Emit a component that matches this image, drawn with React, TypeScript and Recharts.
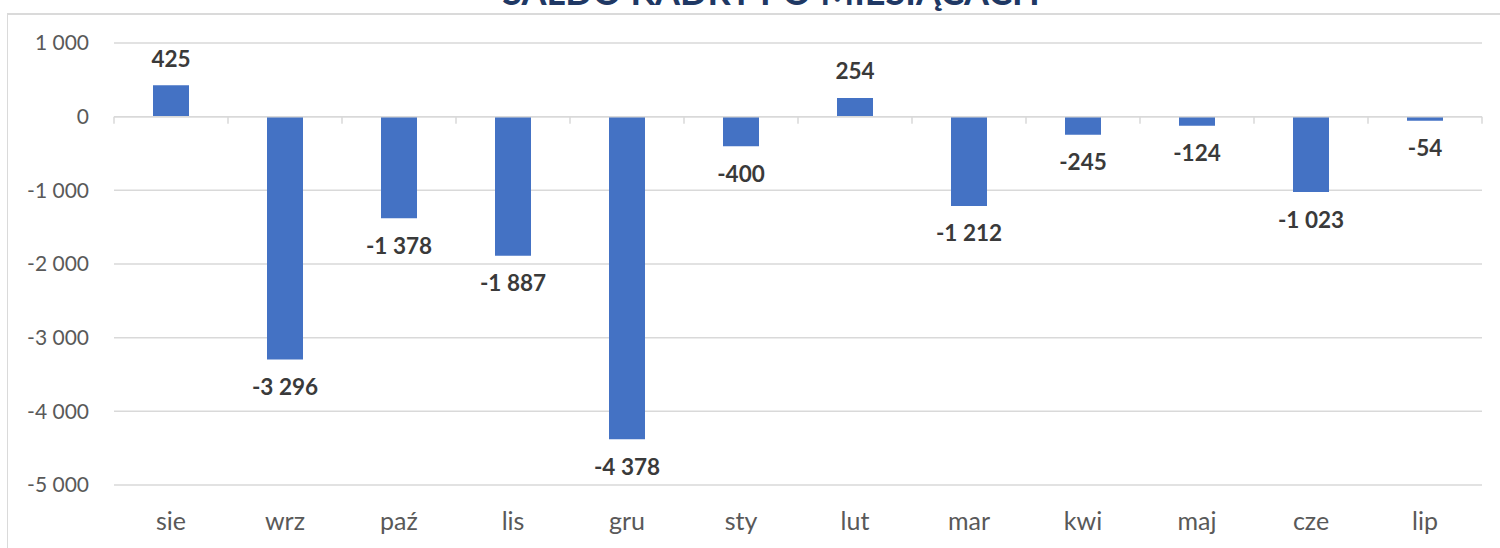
import { BarChart, Bar, XAxis, YAxis, CartesianGrid, ReferenceLine, LabelList } from 'recharts'

const months = ['sie', 'wrz', 'paź', 'lis', 'gru', 'sty', 'lut', 'mar', 'kwi', 'maj', 'cze', 'lip']
const saldo = [425, -3296, -1378, -1887, -4378, -400, 254, -1212, -245, -124, -1023, -54]
const yTicks = [-5000, -4000, -3000, -2000, -1000, 0, 1000]
const title = 'SALDO KADRY PO MIESIĄCACH'

const data = months.map((m, i) => ({ month: m, value: saldo[i] }))

const FONT = 'Lato, "Open Sans", sans-serif'

const fmt = (n: number) => String(n).replace(/\B(?=(\d{3})+(?!\d))/g, ' ')

const BarLabel = (props: any) => {
  const { x, y, width, height, value } = props
  const top = Math.min(y, y + height)
  const bottom = Math.max(y, y + height)
  const ly = value >= 0 ? top - 27 : bottom + 27
  return (
    <text
      x={x + width / 2}
      y={ly}
      textAnchor='middle'
      dominantBaseline='central'
      fontFamily={FONT}
      fontWeight='bold'
      fontSize={22.5}
      fill='#3a3a3a'
    >
      {fmt(value)}
    </text>
  )
}

// zero line with Excel-like tick marks between categories
const ZeroAxis = (props: any) => {
  const { x1, y1, x2 } = props
  const step = (x2 - x1) / months.length
  return (
    <g>
      <line x1={x1} y1={y1} x2={x2} y2={y1} stroke='#d9d9d9' strokeWidth={1.5} />
      {Array.from({ length: months.length + 1 }, (_, i) => (
        <line key={i} x1={x1 + i * step} y1={y1} x2={x1 + i * step} y2={y1 + 7} stroke='#d9d9d9' strokeWidth={1.5} />
      ))}
    </g>
  )
}

export default function App() {
  return (
    <div style={{ position: 'absolute', left: 0, top: 0, width: 1500, height: 548, overflow: 'hidden', background: '#fff' }}>
      <div
        style={{
          position: 'absolute',
          left: 7,
          top: 13,
          width: 1600,
          height: 700,
          borderTop: '2px solid #dadada',
          borderLeft: '1px solid #dadada',
        }}
      />
      <svg width={1500} height={14} style={{ position: 'absolute', left: 0, top: 0 }}>
        <text x={771} y={5} textAnchor='middle' fontFamily={FONT} fontWeight='bold' fontSize={36} fill='#1f3864'>
          {title}
        </text>
      </svg>
      <div style={{ position: 'absolute', left: 0, top: 0 }}>
        <BarChart width={1500} height={548} data={data} margin={{ top: 43, right: 18, bottom: 0, left: 0 }} barSize={36}>
          <CartesianGrid vertical={false} stroke='#d9d9d9' strokeWidth={1.5} />
          <XAxis
            dataKey='month'
            axisLine={false}
            tickLine={false}
            tickSize={0}
            tickMargin={27}
            height={63}
            interval={0}
            tick={{ fontFamily: FONT, fontSize: 25, fill: '#595959' }}
          />
          <YAxis
            domain={[-5000, 1000]}
            ticks={yTicks}
            width={114}
            axisLine={false}
            tickLine={false}
            tickSize={0}
            tickMargin={25}
            tickFormatter={fmt}
            tick={{ fontFamily: FONT, fontSize: 21, fill: '#595959' }}
          />
          <Bar dataKey='value' fill='#4472c4' isAnimationActive={false}>
            <LabelList dataKey='value' content={BarLabel} />
          </Bar>
          <ReferenceLine y={0} shape={ZeroAxis} />
        </BarChart>
      </div>
    </div>
  )
}
